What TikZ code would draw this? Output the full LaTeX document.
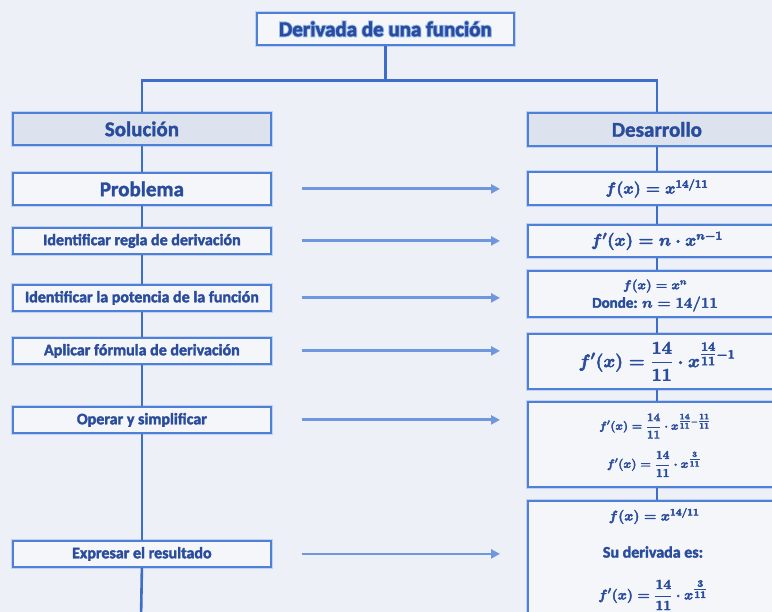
\RequirePackage{fix-cm}
\documentclass[tikz,border=0pt]{standalone}
\usepackage{amsmath}
\usepackage[no-math]{fontspec}
\setmainfont{Carlito}
\usetikzlibrary{arrows.meta}
\definecolor{bg}{HTML}{EDF0F6}
\definecolor{txt}{HTML}{2A4C9C}
\definecolor{glow}{HTML}{9DBDF0}
\definecolor{bord}{HTML}{4F80D8}
\definecolor{conn}{HTML}{3E6DCA}
\definecolor{arrc}{HTML}{6F97DD}
\definecolor{hdr}{HTML}{DCE3EE}
\definecolor{boxf}{HTML}{F4F6FA}
\newcommand{\fsz}[1]{\fontsize{#1}{#1}\selectfont}
\newcommand{\stk}[2]{\special{pdf:literal 2 Tr #1 w}#2\special{pdf:literal 0 Tr}}
\newcommand{\supfrac}[2]{\genfrac{}{}{}{1}{#1}{#2}}
\tikzset{
  box/.style={draw=bord, line width=1.8pt, fill=boxf, text=txt,
    font=\bfseries\boldmath, inner sep=0pt, anchor=north west,
    preaction={draw=bord!35, line width=3.6pt}},
  hdrbox/.style={box, fill=hdr},
  heavy/.style={execute at begin node={\special{pdf:literal 2 Tr #1 w}},
    execute at end node={\special{pdf:literal 0 Tr}}},
  heavy/.default=0.35,
  txtnode/.style={text=txt, font=\bfseries\boldmath, inner sep=0pt},
  conn/.style={draw=conn, line width=2.6pt},
  arr/.style={draw=arrc, line width=2.8pt, -{Triangle[length=9pt,width=9pt]},
    shorten >=27pt},
}
\begin{document}
\begin{tikzpicture}[x=1pt,y=-1pt]
\useasboundingbox (0,0) rectangle (772,612);
\clip (0,0) rectangle (772,612);
\fill[bg] (0,0) rectangle (772,612);

% title
\node[box, minimum width=257pt, minimum height=32pt, font=\bfseries\fsz{21}] (title) at (256,12)
  {\rlap{\color{glow}\stk{2.2}{Derivada de una función}}\stk{0.35}{Derivada de una función}};

% headers
\node[hdrbox, heavy, minimum width=258pt, minimum height=32pt, font=\bfseries\fsz{21}] (sol) at (12,112) {Solución};
\node[hdrbox, heavy, minimum width=258pt, minimum height=33pt, font=\bfseries\fsz{21}] (des) at (527,112) {Desarrollo};

% left column
\node[box, heavy, minimum width=258pt, minimum height=32pt, font=\bfseries\fsz{21}] (prob) at (12,172) {Problema};
\node[box, heavy, minimum width=258pt, minimum height=26pt, font=\bfseries\fsz{16}] (regla) at (12,227) {Identificar regla de derivación};
\node[box, heavy, minimum width=258pt, minimum height=26pt, font=\bfseries\fsz{16}] (pot) at (12,284) {Identificar la potencia de la función};
\node[box, heavy, minimum width=258pt, minimum height=26pt, font=\bfseries\fsz{16}] (apl) at (12,337) {Aplicar fórmula de derivación};
\node[box, heavy, minimum width=258pt, minimum height=26pt, font=\bfseries\fsz{16}] (oper) at (12,406) {Operar y simplificar};
\node[box, heavy, minimum width=258pt, minimum height=26pt, font=\bfseries\fsz{16}] (expr) at (12,540) {Expresar el resultado};

% right column
\node[box, heavy=0.5, minimum width=258pt, minimum height=33pt, font=\bfseries\boldmath\fsz{16}] (r1) at (527,171) {$f(x) = x^{14/11}$};
\node[box, heavy=0.5, minimum width=258pt, minimum height=32pt, font=\bfseries\boldmath\fsz{17}] (r2) at (527,224) {$f'(x) = n\cdot x^{n-1}$};
\node[box, minimum width=258pt, minimum height=46pt] (r3) at (527,270) {};
\node[box, heavy=0.5, minimum width=258pt, minimum height=55pt, font=\bfseries\boldmath\fsz{18}] (r4) at (527,333) {$\displaystyle f'(x) = \frac{14}{11}\cdot x^{\supfrac{14}{11}-1}$};
\node[box, minimum width=258pt, minimum height=85pt] (r5) at (527,401) {};
\node[box, minimum width=258pt, minimum height=130pt] (r6) at (527,500) {};

% contents of multi-line boxes
\node[txtnode, heavy=0.4, font=\bfseries\boldmath\fsz{13}] (r3a) at (655,286) {$f(x) = x^{n}$};
\node[txtnode, heavy, font=\bfseries\boldmath\fsz{15}] (r3b) at (655,304) {Donde: $n = 14/11$};
\node[txtnode, heavy=0.35, font=\bfseries\boldmath\fsz{11.5}] (r5a) at (655,426) {$\displaystyle f'(x) = \frac{14}{11}\cdot x^{\supfrac{14}{11}-\supfrac{11}{11}}$};
\node[txtnode, heavy=0.35, font=\bfseries\boldmath\fsz{12}] (r5b) at (654,464) {$\displaystyle f'(x) = \frac{14}{11}\cdot x^{\supfrac{3}{11}}$};
\node[txtnode, heavy=0.4, font=\bfseries\boldmath\fsz{14}] (r6a) at (654,516) {$f(x) = x^{14/11}$};
\node[txtnode, heavy, font=\bfseries\fsz{16}] (r6b) at (653,552) {Su derivada es:};
\node[txtnode, heavy=0.4, font=\bfseries\boldmath\fsz{14}] (r6c) at (653,595) {$\displaystyle f'(x) = \frac{14}{11}\cdot x^{\supfrac{3}{11}}$};

% tree connectors
\draw[conn] (title.south) -- ++(0,35) coordinate (tj);
\draw[conn] (sol.north) |- (tj) -| (des.north);

% column connectors
\coordinate (lend) at (141,620);
\draw[conn] (sol.south) -- (prob.north);
\draw[conn] (prob.south) -- (regla.north);
\draw[conn] (regla.south) -- (pot.north);
\draw[conn] (pot.south) -- (apl.north);
\draw[conn] (apl.south) -- (oper.north);
\draw[conn] (oper.south) -- (expr.north);
\draw[conn] (expr.south) -- (lend);
\draw[conn] (des.south) -- (r1.north);
\draw[conn] (r1.south) -- (r2.north);
\draw[conn] (r2.south) -- (r3.north);
\draw[conn] (r3.south) -- (r4.north);
\draw[conn] (r4.south) -- (r5.north);
\draw[conn] (r5.south) -- (r6.north);

% arrows
\draw[arr] ([xshift=30pt]prob.east) -- (prob.east -| r1.west);
\draw[arr] ([xshift=30pt]regla.east) -- (regla.east -| r2.west);
\draw[arr] ([xshift=30pt]pot.east) -- (pot.east -| r3.west);
\draw[arr] ([xshift=30pt]apl.east) -- (apl.east -| r4.west);
\draw[arr] ([xshift=30pt]oper.east) -- (oper.east -| r5.west);
\draw[arr] ([xshift=30pt]expr.east) -- (expr.east -| r6.west);
\end{tikzpicture}
\end{document}
